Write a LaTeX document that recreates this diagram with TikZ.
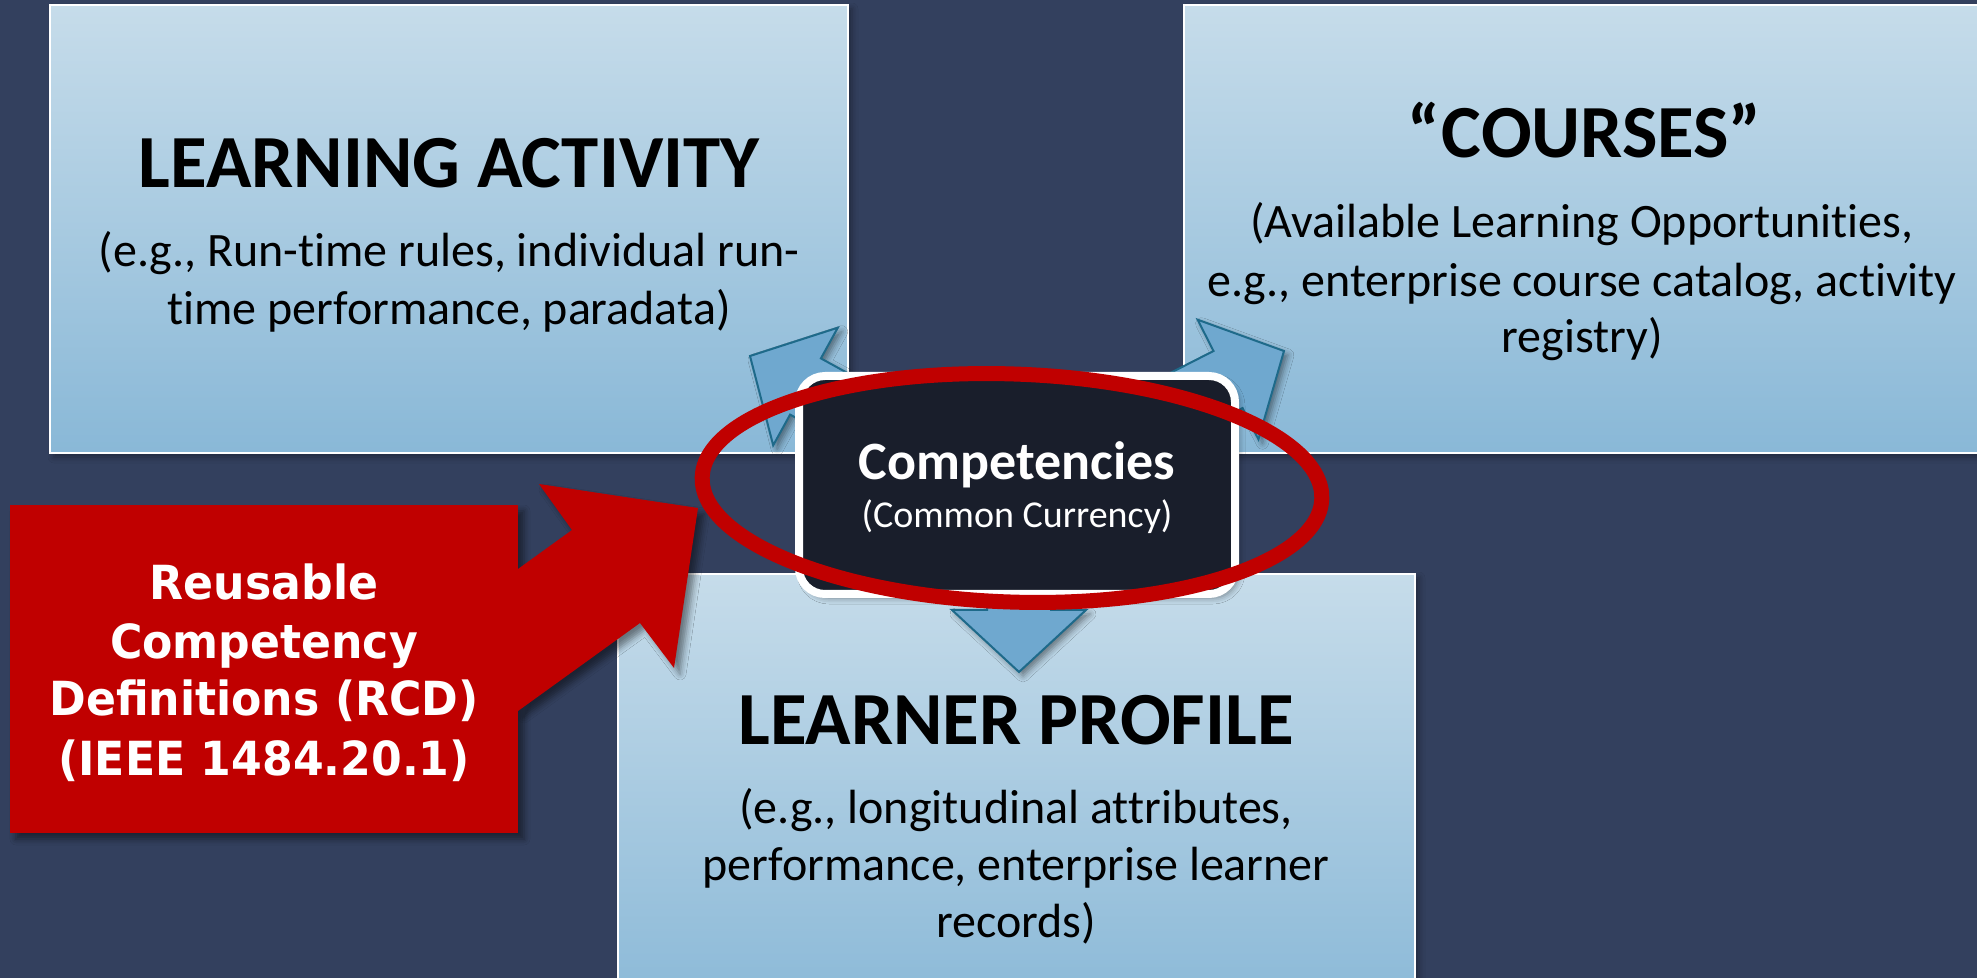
\documentclass[tikz,border=0pt]{standalone}
\usepackage{fontspec}
\setmainfont{Carlito}[Ligatures={NoCommon}]
\newfontfamily\callfont{DejaVu Sans}[FakeStretch=0.94]
\usetikzlibrary{shadows.blur}
\definecolor{bgcol}{RGB}{51,64,94}
\definecolor{boxtop}{RGB}{198,220,234}
\definecolor{boxbot}{RGB}{137,184,215}
\definecolor{arrfill}{RGB}{111,168,207}
\definecolor{arrline}{RGB}{30,106,138}
\definecolor{redc}{RGB}{192,0,0}
\definecolor{corefill}{RGB}{25,30,43}
\begin{document}
\begin{tikzpicture}[x=0.5pt,y=-0.5pt,
  panel/.style={top color=boxtop, bottom color=boxbot, draw=white, line width=1pt,
    inner sep=0pt, outer sep=0pt, minimum width=399pt, minimum height=224pt,
    blur shadow={shadow xshift=2pt, shadow yshift=-2pt, shadow blur radius=3pt, shadow opacity=35}},
  titletext/.style={font=\fontsize{37.5}{44}\selectfont\bfseries, inner sep=0pt, text=black, anchor=base},
  bodytext/.style={font=\fontsize{24}{29}\selectfont, inner sep=0pt, text=black, anchor=base},
  calltext/.style={font=\callfont\bfseries\fontsize{23.5}{29}\selectfont, inner sep=0pt, text=white, anchor=base},
  bluearrow/.style={fill=arrfill, draw=arrline, line width=1pt, line join=miter,
    blur shadow={shadow xshift=2pt, shadow yshift=-2pt, shadow blur radius=3pt, shadow opacity=45}},
  redshape/.style={fill=redc, blur shadow={shadow xshift=3pt, shadow yshift=-3pt, shadow blur radius=3pt, shadow opacity=45}}
]
\useasboundingbox (0,0) rectangle (1977,978);
\fill[bgcol] (0,0) rectangle (1977,978);

% panels
\node[panel] (la) at (449,229) {};
\node[panel] (courses) at (1583,229) {};
\node[panel, minimum width=398.5pt] (lp) at (1016.5,798) {};

% panel texts
\node[titletext] (latitle) at (449,188) {LEARNING ACTIVITY};
\node[bodytext] (la1) at (449,267) {(e.g., Run-time rules, individual run-};
\node[bodytext] (la2) at (449,325) {time performance, paradata)};

\node[titletext] (crtitle) at (1584,158) {“\kern1pt COURSES”};
\node[bodytext] (cr1) at (1582,238) {(Available Learning Opportunities,};
\node[bodytext] (cr2) at (1582,297) {e.g., enterprise course catalog, activity};
\node[bodytext] (cr3) at (1582,353) {registry)};

\node[titletext] (lptitle) at (1016,744) {LEARNER PROFILE};
\node[bodytext] (lp1) at (1016,823) {(e.g., longitudinal attributes,};
\node[bodytext] (lp2) at (1016,880) {performance, enterprise learner};
\node[bodytext] (lp3) at (1016,937) {records)};

% red callout
\fill[redshape] (10,505) rectangle (518,833);
\fill[redshape] (518,569) -- (572,530) -- (539,484) -- (698,508) -- (674,668) -- (640,623) -- (518,711) -- cycle;
\node[calltext] (c1) at (264,600) {Reusable};
\node[calltext] (c2) at (264,658) {Competency};
\node[calltext] (c3) at (264,715) {Definitions (RCD)};
\node[calltext] (c4) at (264,775) {(IEEE 1484.20.1)};

% blue arrows
\path[bluearrow] (750,356) -- (837.8,327.7) -- (820.9,358.4) -- (996.3,454.8) -- (965.5,511.0) -- (790.1,414.6) -- (773.2,445.3) -- cycle;
\path[bluearrow] (1284,351) -- (1197.6,319.7) -- (1213.5,351.0) -- (1035.1,441.8) -- (1064.1,498.8) -- (1242.5,408.0) -- (1258.4,439.3) -- cycle;
\path[bluearrow] (1019,672) -- (952,610) -- (987,610) -- (987,485) -- (1051,485) -- (1051,610) -- (1086,610) -- cycle;

% center box
\node[draw=white, fill=corefill, line width=4pt, rounded corners=13pt,
  minimum width=218pt, minimum height=109pt, inner sep=0pt,
  blur shadow={shadow xshift=2pt, shadow yshift=-2pt, shadow blur radius=3pt, shadow opacity=40}] (core) at (1017,485) {};
\node[font=\fontsize{27}{32}\selectfont\bfseries, text=white, inner sep=0pt, anchor=base] (coret) at (1017,480) {Competencies};
\node[font=\fontsize{19}{23}\selectfont, text=white, inner sep=0pt, anchor=base] (cores) at (1017,528) {(Common Currency)};

% red ellipse
\draw[redc, line width=7.5pt, rotate around={-2:(1012,488)}] (1012,488) ellipse [x radius=155pt, y radius=57pt];
\end{tikzpicture}
\end{document}
